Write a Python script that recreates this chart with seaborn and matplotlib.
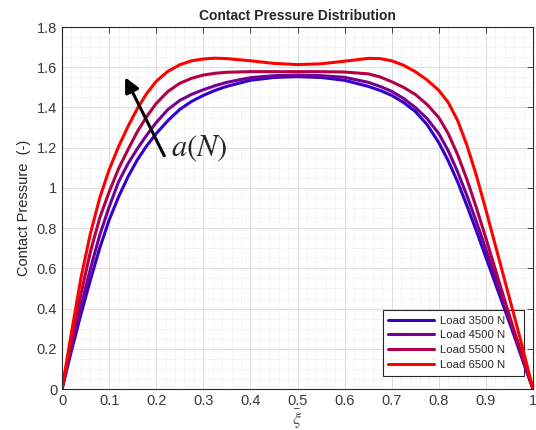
import numpy as np
import pandas as pd
import matplotlib.pyplot as plt
import seaborn as sns
from matplotlib.ticker import AutoMinorLocator, MultipleLocator, FuncFormatter

# normalised position along the contact
xi = [0, 0.02, 0.04, 0.06, 0.08, 0.10, 0.12, 0.14, 0.16, 0.18, 0.20, 0.225,
      0.25, 0.275, 0.30, 0.325, 0.35, 0.40, 0.45, 0.50, 0.55, 0.60, 0.65,
      0.675, 0.70, 0.725, 0.75, 0.775, 0.80, 0.82, 0.84, 0.86, 0.88, 0.90,
      0.92, 0.94, 0.96, 0.98, 1.0]

p_3500 = [0, 0.19, 0.37, 0.54, 0.70, 0.84, 0.955, 1.055, 1.14, 1.21, 1.27, 1.335,
          1.39, 1.43, 1.46, 1.485, 1.505, 1.535, 1.549, 1.553, 1.549, 1.535, 1.505,
          1.485, 1.46, 1.425, 1.38, 1.315, 1.225, 1.135, 1.03, 0.91, 0.785, 0.655,
          0.525, 0.395, 0.265, 0.13, 0]
p_4500 = [0, 0.21, 0.41, 0.595, 0.765, 0.905, 1.03, 1.12, 1.195, 1.263, 1.325, 1.39,
          1.435, 1.465, 1.488, 1.508, 1.525, 1.548, 1.558, 1.561, 1.558, 1.55, 1.525,
          1.505, 1.48, 1.445, 1.40, 1.345, 1.27, 1.185, 1.08, 0.96, 0.83, 0.695,
          0.555, 0.415, 0.275, 0.135, 0]
p_5500 = [0, 0.245, 0.47, 0.68, 0.85, 0.98, 1.095, 1.19, 1.28, 1.355, 1.42, 1.48,
          1.52, 1.545, 1.561, 1.570, 1.575, 1.578, 1.578, 1.578, 1.578, 1.576, 1.567,
          1.552, 1.528, 1.50, 1.465, 1.415, 1.35, 1.27, 1.165, 1.04, 0.90, 0.75,
          0.595, 0.44, 0.29, 0.144, 0]
p_6500 = [0, 0.28, 0.55, 0.77, 0.95, 1.09, 1.205, 1.305, 1.395, 1.47, 1.53, 1.58,
          1.612, 1.632, 1.641, 1.645, 1.643, 1.632, 1.619, 1.613, 1.617, 1.630, 1.644,
          1.643, 1.632, 1.610, 1.578, 1.537, 1.485, 1.425, 1.335, 1.21, 1.06, 0.89,
          0.715, 0.54, 0.365, 0.185, 0]

loads = ['Load 3500 N', 'Load 4500 N', 'Load 5500 N', 'Load 6500 N']
colors = ['#3300cc', '#740090', '#b00048', '#ff0000']

df = pd.DataFrame({
    'xi': xi * 4,
    'p': p_3500 + p_4500 + p_5500 + p_6500,
    'load': [l for l in loads for _ in xi],
})

sns.set_theme(style='whitegrid')
plt.rcParams['font.family'] = ['Liberation Sans', 'DejaVu Sans']
plt.rcParams['mathtext.fontset'] = 'stix'

fig = plt.figure(figsize=(5.36, 4.30), dpi=100)
ax = fig.add_axes([0.1157, 0.0953, 0.8787, 0.8419])

sns.lineplot(data=df, x='xi', y='p', hue='load', palette=colors,
             linewidth=2.2, errorbar=None, ax=ax)

ax.set_xlim(0, 1)
ax.set_ylim(0, 1.8)
ax.xaxis.set_major_locator(MultipleLocator(0.1))
ax.yaxis.set_major_locator(MultipleLocator(0.2))
ax.xaxis.set_minor_locator(AutoMinorLocator(5))
ax.yaxis.set_minor_locator(AutoMinorLocator(4))
fmt = FuncFormatter(lambda v, pos: f'{v:.1f}'.rstrip('0').rstrip('.') if abs(v) > 1e-9 else '0')
ax.xaxis.set_major_formatter(fmt)
ax.yaxis.set_major_formatter(fmt)
ax.grid(which='major', color='#dcdcdc', linewidth=0.7, linestyle='-')
ax.grid(which='minor', color='#e2e2e2', linewidth=0.6, linestyle=':')
ax.set_axisbelow(True)
ax.tick_params(which='both', direction='in', top=True, right=True,
               labelsize=10.5, labelcolor='#3a3a3a', color='#262626')
ax.tick_params(which='major', length=4, width=0.6)
ax.tick_params(which='minor', length=0)
for s in ax.spines.values():
    s.set_color('#262626')
    s.set_linewidth(0.8)

ax.set_title('Contact Pressure Distribution', fontsize=10, fontweight='bold', pad=5)
ax.set_ylabel('Contact Pressure  (-)', fontsize=10.5, color='#262626', labelpad=4)
ax.set_xlabel(r'$\bar{\xi}$', fontsize=13, color='#505050', labelpad=0)

ax.annotate('', xy=(0.134, 1.55), xytext=(0.217, 1.16),
            arrowprops=dict(arrowstyle='-|>', color='black', lw=2.2,
                            mutation_scale=22, shrinkA=0, shrinkB=0))
ax.text(0.232, 1.2, r'$a(N)$', fontsize=22, va='center', ha='left')

leg = ax.legend(loc='lower left', bbox_to_anchor=(0.681, 0.037, 0.299, 0.181),
                mode='expand', borderaxespad=0, fontsize=8.2, handlelength=4.0,
                handletextpad=0.5, fancybox=False, framealpha=1,
                edgecolor='#262626', labelspacing=0.42, borderpad=0.5, title=None)
leg.get_frame().set_linewidth(0.8)
leg.set_zorder(1.5)  # curves pass over the legend box, as in the original

fig.savefig('out.png', dpi=100)
